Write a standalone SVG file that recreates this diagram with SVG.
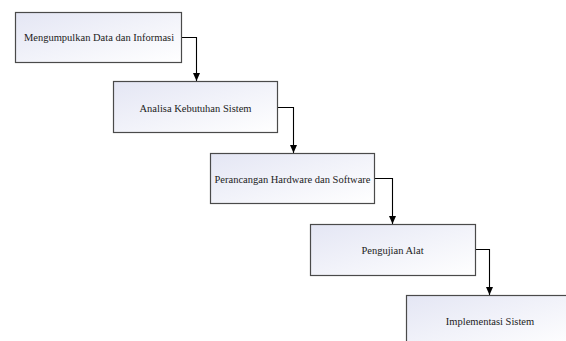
<svg xmlns="http://www.w3.org/2000/svg" width="566" height="341" viewBox="0 0 566 341">
<style>
.box{fill:url(#g);stroke:#4a4a4a;stroke-width:1.2}
.lbl{font-family:"Liberation Serif","Times New Roman",serif;font-size:10.5px;fill:#222;text-anchor:middle}
.con{fill:none;stroke:#000;stroke-width:1.1;marker-end:url(#ah)}
</style>
<defs>
<linearGradient id="g" x1="0" y1="0" x2="1" y2="1">
<stop offset="0" stop-color="#e4e6f4"/>
<stop offset="1" stop-color="#ffffff"/>
</linearGradient>
<marker id="ah" markerUnits="userSpaceOnUse" markerWidth="9" markerHeight="8" refX="8" refY="4" orient="auto">
<path d="M0,0.5 L8,4 L0,7.5 Z" fill="#000"/>
</marker>
</defs>
<rect width="566" height="341" fill="#fff"/>
<g id="connectors">
<path class="con" d="M181.5,37.5 H196.5 V81"/>
<path class="con" d="M277.5,107.5 H293.5 V153"/>
<path class="con" d="M374.5,178.5 H392.5 V224"/>
<path class="con" d="M475.5,249.5 H489.5 V295"/>
</g>
<g id="n1"><rect class="box" x="15.5" y="12.5" width="166" height="50"/><text class="lbl" x="99" y="41">Mengumpulkan Data dan Informasi</text></g>
<g id="n2"><rect class="box" x="113.5" y="81.5" width="164" height="51"/><text class="lbl" x="195.5" y="111.5">Analisa Kebutuhan Sistem</text></g>
<g id="n3"><rect class="box" x="210.5" y="153.5" width="164" height="50"/><text class="lbl" x="292.5" y="182.5">Perancangan Hardware dan Software</text></g>
<g id="n4"><rect class="box" x="310.5" y="224.5" width="165" height="51"/><text class="lbl" x="392.5" y="253.5">Pengujian Alat</text></g>
<g id="n5"><rect class="box" x="406.5" y="295.5" width="167" height="52"/><text class="lbl" x="490" y="325">Implementasi Sistem</text></g>
</svg>
